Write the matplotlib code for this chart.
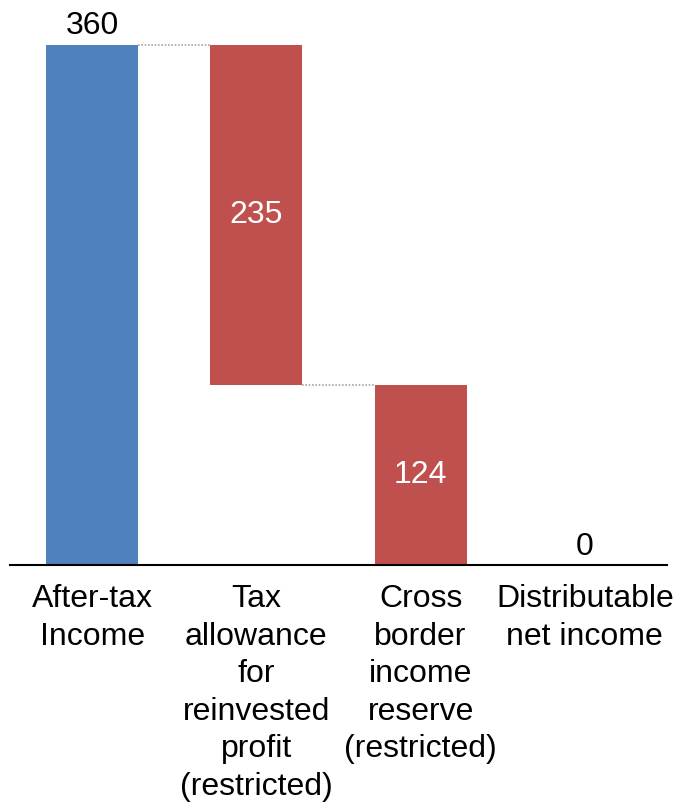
import matplotlib.pyplot as plt

plt.rcParams['font.family'] = ['Liberation Sans', 'DejaVu Sans']

# 数据
categories = ['After-tax\nIncome',
              'Tax\nallowance\nfor\nreinvested\nprofit\n(restricted)',
              'Cross\nborder\nincome\nreserve\n(restricted)',
              'Distributable\nnet income']
after_tax = 359.6
deductions = [235.3, 124.3]

# 瀑布图各柱的底部与高度
bottoms = [0]
heights = [after_tax]
level = after_tax
for d in deductions:
    level -= d
    bottoms.append(level)
    heights.append(d)
final_value = level
colors = ['#4F81BD', '#C0504D', '#C0504D']

fig = plt.figure(figsize=(6.77, 8.08), dpi=100)
ax = fig.add_axes([10 / 677, 243 / 808, 657 / 677, 565 / 808])

x = range(len(heights))
width = 0.56
ax.bar(x, heights, bottom=bottoms, width=width, color=colors, zorder=2)

# 连接虚线
tops = [b + h for b, h in zip(bottoms, heights)]
for i in range(len(heights) - 1):
    y = tops[i] if i == 0 else bottoms[i]
    ax.plot([i + width / 2, i + 1 - width / 2], [y, y], color='#a6a6a6',
            linestyle=(0, (1, 1)), linewidth=1.2, zorder=1)

# 数值标签
fs = 23
ax.text(0, tops[0] + 3, f'{after_tax:.0f}', ha='center', va='bottom', fontsize=fs)
for i in range(1, len(heights)):
    ax.text(i, bottoms[i] + heights[i] / 2, f'{heights[i]:.0f}', ha='center',
            va='center', fontsize=fs, color='white')
ax.text(3, final_value + 2, f'{abs(final_value):.0f}', ha='center', va='bottom', fontsize=fs)

ax.set_xlim(-0.5, 3.5)
ax.set_ylim(0, after_tax * 565 / 520)
ax.set_xticks(range(len(categories)))
ax.set_xticklabels(categories, fontsize=fs, linespacing=1.325)
ax.tick_params(axis='x', length=0, pad=14)
ax.set_yticks([])
for s in ['top', 'left', 'right']:
    ax.spines[s].set_visible(False)
ax.spines['bottom'].set_linewidth(1.5)

fig.savefig('out.png', dpi=100)
